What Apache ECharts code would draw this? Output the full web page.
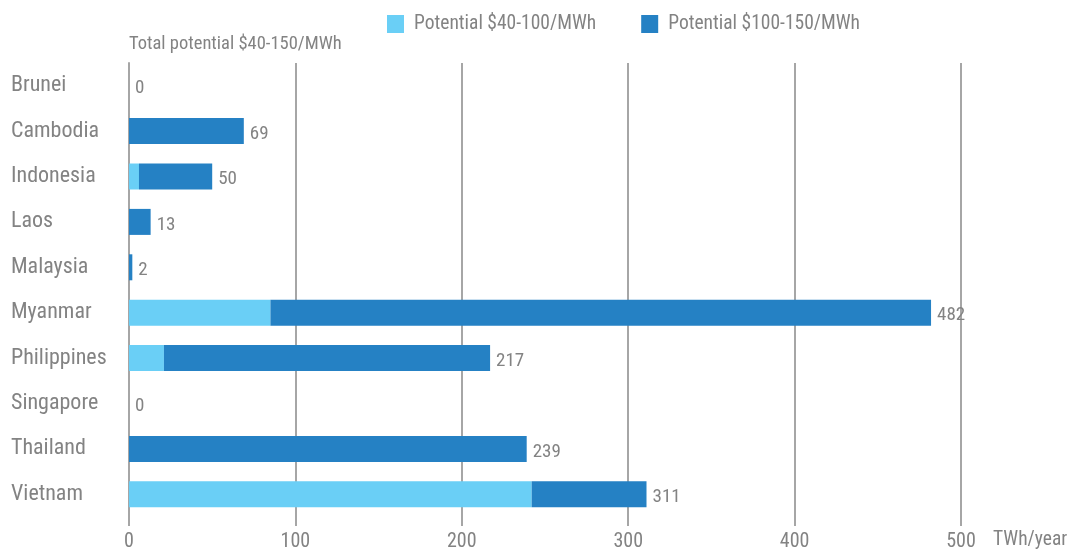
<!DOCTYPE html>
<html>
<head>
<meta charset="utf-8">
<script src="https://cdn.jsdelivr.net/npm/echarts@6/dist/echarts.min.js"></script>
<style>
  html, body { margin: 0; padding: 0; background: #fff; }
  #chart { width: 1075px; height: 553px; }
</style>
</head>
<body>
<div id="chart"></div>
<script>
// Solar potential by country, TWh/year
const countries = ['Brunei', 'Cambodia', 'Indonesia', 'Laos', 'Malaysia', 'Myanmar', 'Philippines', 'Singapore', 'Thailand', 'Vietnam'];
const low = [0, 0, 6, 0, 0, 85, 21, 0, 0, 242];      // $40-100/MWh
const high = [0, 69, 44, 13, 2, 397, 196, 0, 239, 69]; // $100-150/MWh
const totals = [0, 69, 50, 13, 2, 482, 217, 0, 239, 311];
const xTicks = [0, 100, 200, 300, 400, 500];

const FONT = '"Roboto Condensed", Roboto, sans-serif';
const GREY = '#838383';
const LINE = '#a6a6a6';

const chart = echarts.init(document.getElementById('chart'));
chart.setOption({
  animation: false,
  textStyle: { fontFamily: FONT },
  legend: {
    top: 9,
    left: 382,
    itemWidth: 17,
    itemHeight: 18,
    itemGap: 45,
    icon: 'rect',
    textStyle: { fontFamily: FONT, fontSize: 19.5, color: GREY, padding: [0, 0, 0, 5] },
    data: ['Potential $40-100/MWh', 'Potential $100-150/MWh']
  },
  grid: { left: 129, top: 63, width: 832, height: 454, containLabel: false },
  xAxis: {
    type: 'value',
    min: xTicks[0],
    max: xTicks[xTicks.length - 1],
    interval: 100,
    axisLine: { show: false },
    axisTick: { show: true, length: 9, lineStyle: { color: LINE, width: 2 } },
    splitLine: { show: true, lineStyle: { color: LINE, width: 2 } },
    axisLabel: { color: GREY, fontSize: 20, fontFamily: FONT, margin: 15 }
  },
  yAxis: {
    type: 'category',
    inverse: true,
    data: countries,
    axisLine: { show: true, lineStyle: { color: LINE, width: 2 } },
    axisTick: { show: false },
    axisLabel: { color: GREY, fontSize: 22, fontFamily: FONT, align: 'left', margin: 118, padding: [4, 0, 0, 0] }
  },
  series: [
    {
      name: 'Potential $40-100/MWh',
      type: 'bar',
      stack: 'total',
      barWidth: 26,
      itemStyle: { color: '#6acff6' },
      data: low
    },
    {
      name: 'Potential $100-150/MWh',
      type: 'bar',
      stack: 'total',
      barWidth: 26,
      itemStyle: { color: '#2581c4' },
      label: {
        show: true,
        position: 'right',
        distance: 6,
        offset: [0, 3],
        color: GREY,
        fontSize: 19,
        fontFamily: FONT,
        formatter: p => String(totals[p.dataIndex])
      },
      data: high
    }
  ],
  graphic: [
    {
      type: 'text',
      left: 129,
      top: 35,
      style: { text: 'Total potential $40-150/MWh', fill: GREY, font: '18.5px ' + FONT }
    },
    {
      type: 'text',
      left: 993,
      top: 530,
      style: { text: 'TWh/year', fill: GREY, font: '19.5px ' + FONT }
    }
  ]
});
</script>
</body>
</html>
